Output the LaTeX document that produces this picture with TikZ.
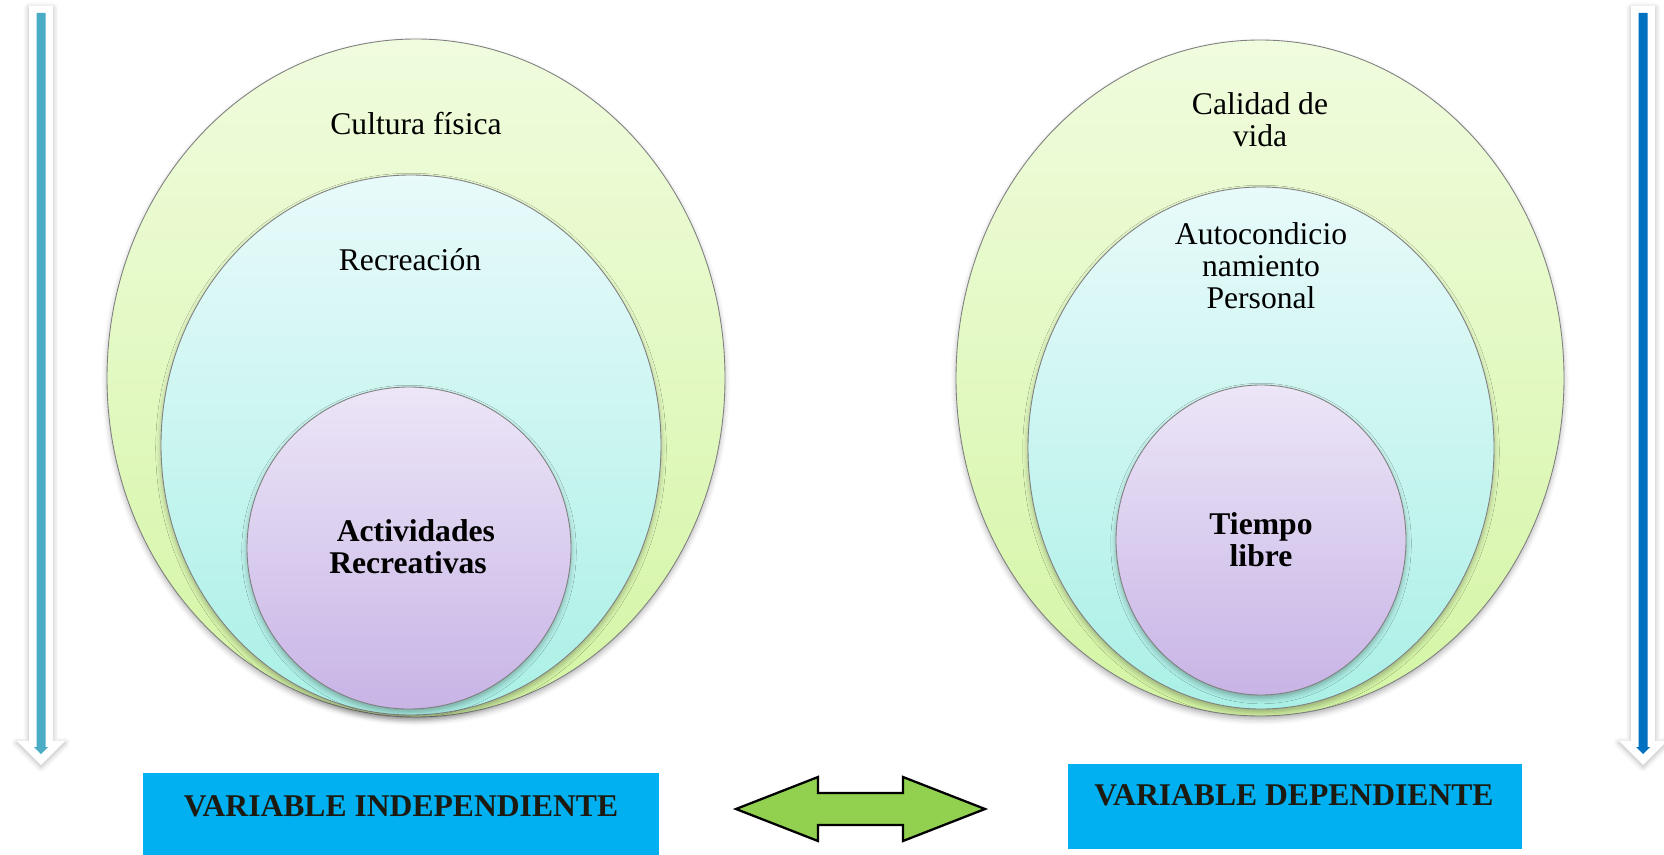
\documentclass[tikz,border=0pt]{standalone}
\usepackage{fontspec}
\setmainfont{Liberation Serif}
\usetikzlibrary{shadows.blur}
\definecolor{greentop}{RGB}{240,252,222}
\definecolor{greenbot}{RGB}{212,245,164}
\definecolor{cyantop}{RGB}{232,250,250}
\definecolor{cyanbot}{RGB}{170,240,230}
\definecolor{violettop}{RGB}{236,230,247}
\definecolor{violetbot}{RGB}{200,180,230}
\definecolor{skyblue}{RGB}{0,176,240}
\definecolor{arrowgreen}{RGB}{146,208,80}
\definecolor{tealbar}{RGB}{75,172,198}
\definecolor{royalbar}{RGB}{0,112,192}
\definecolor{inkdark}{RGB}{29,27,17}
\begin{document}
\begin{tikzpicture}[
    x=0.02cm, y=-0.02cm,
    ring/.style={draw=black!50, line width=0.5pt,
      blur shadow={shadow xshift=0pt, shadow yshift=-2pt, shadow blur radius=3pt, shadow opacity=30}},
    ringtext/.style={font=\fontsize{18}{18.2}\selectfont, align=center, inner sep=0pt},
    varbox/.style={fill=skyblue},
    heading/.style={font=\fontsize{18}{18}\selectfont\bfseries, color=inkdark, inner sep=0pt},
    pole/.style={fill=white, blur shadow={shadow xshift=0pt, shadow yshift=-1pt, shadow blur radius=3pt, shadow opacity=30}},
    twinarrow/.style={draw=black, line width=1.3pt, fill=arrowgreen, line join=miter}
  ]
  \useasboundingbox (0,0) rectangle (1664,855);

  % side arrows
  \foreach \cx/\barcol in {41/tealbar, 1643/royalbar} {
    \fill[pole] (\cx-12,6) -- (\cx+12,6) -- (\cx+12,741) -- (\cx+24,741) -- (\cx,765)
      -- (\cx-24,741) -- (\cx-12,741) -- cycle;
    \fill[\barcol] (\cx-4.5,13) -- (\cx+4.5,13) -- (\cx+4.5,747) -- (\cx+7,747) -- (\cx,754)
      -- (\cx-7,747) -- (\cx-4.5,747) -- cycle;
  }

  % left set
  \draw[ring, top color=greentop, bottom color=greenbot] (416,378) ellipse [x radius=309, y radius=339];
  \draw[ring, top color=cyantop, bottom color=cyanbot] (411,445) ellipse [x radius=250, y radius=270];
  \draw[ring, top color=violettop, bottom color=violetbot] (409,548) ellipse [x radius=162, y radius=161];
  \node[ringtext, anchor=base] (cultura) at (416,134) {Cultura física};
  \node[ringtext, anchor=base] (recrea) at (410,270) {Recreación};
  \node[ringtext, font=\fontsize{18}{18.2}\selectfont\bfseries] (activ) at (408,547) {\hspace*{0.5em}Actividades\\Recreativas};

  % right set
  \draw[ring, top color=greentop, bottom color=greenbot] (1260,378) ellipse [x radius=304, y radius=338];
  \draw[ring, top color=cyantop, bottom color=cyanbot] (1261,448) ellipse [x radius=233, y radius=261];
  \draw[ring, top color=violettop, bottom color=violetbot] (1261,540) ellipse [x radius=145, y radius=155];
  \node[ringtext] (calidad) at (1260,120) {Calidad de\\vida};
  \node[ringtext] (autocond) at (1261,266) {Autocondicio\\namiento\\Personal};
  \node[ringtext, font=\fontsize{18}{18.2}\selectfont\bfseries] (tiempo) at (1261,540) {Tiempo\\libre};

  % variables
  \fill[varbox] (143,773) rectangle (659,855);
  \node[heading, anchor=base] (indep) at (401,816) {VARIABLE INDEPENDIENTE};
  \fill[varbox] (1068,764) rectangle (1522,849);
  \node[heading, anchor=base] (dep) at (1294,805) {VARIABLE DEPENDIENTE};

  \draw[twinarrow] (736,809) -- (818,777) -- (818,793) -- (903,793) -- (903,777) -- (985,809)
    -- (903,841) -- (903,825) -- (818,825) -- (818,841) -- cycle;
\end{tikzpicture}
\end{document}
